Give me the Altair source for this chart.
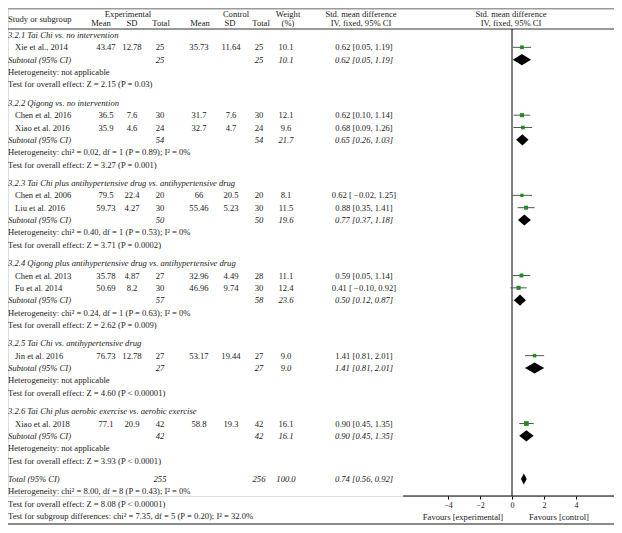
import altair as alt
import pandas as pd

FONT = "Liberation Serif"
FS = 8.6
COL = "#222222"

# ---------------- data ----------------
group_titles = [
    "3.2.1 Tai Chi vs. no intervention",
    "3.2.2 Qigong vs. no intervention",
    "3.2.3 Tai Chi plus antihypertensive drug vs. antihypertensive drug",
    "3.2.4 Qigong plus antihypertensive drug vs. antihypertensive drug",
    "3.2.5 Tai Chi vs. antihypertensive drug",
    "3.2.6 Tai Chi plus aerobic exercise vs. aerobic exercise",
]
study_names = ["Xie et al., 2014", "Chen et al. 2016", "Xiao et al. 2016",
               "Chen et al. 2006", "Liu et al. 2016", "Chen et al. 2013",
               "Fu et al. 2014", "Jin et al. 2016", "Xiao et al. 2018"]
study_group = [0, 1, 1, 2, 2, 3, 3, 4, 5]
exp_mean = ["43.47", "36.5", "35.9", "79.5", "59.73", "35.78", "50.69", "76.73", "77.1"]
exp_sd = ["12.78", "7.6", "4.6", "22.4", "4.27", "4.87", "8.2", "12.78", "20.9"]
exp_n = ["25", "30", "24", "20", "30", "27", "30", "27", "42"]
ctl_mean = ["35.73", "31.7", "32.7", "66", "55.46", "32.96", "46.96", "53.17", "58.8"]
ctl_sd = ["11.64", "7.6", "4.7", "20.5", "5.23", "4.49", "9.74", "19.44", "19.3"]
ctl_n = ["25", "30", "24", "20", "30", "28", "30", "27", "42"]
weight = [10.1, 12.1, 9.6, 8.1, 11.5, 11.1, 12.4, 9.0, 16.1]
smd = [0.62, 0.62, 0.68, 0.62, 0.88, 0.59, 0.41, 1.41, 0.90]
smd_lo = [0.05, 0.10, 0.09, -0.02, 0.35, 0.05, -0.10, 0.81, 0.45]
smd_hi = [1.19, 1.14, 1.26, 1.25, 1.41, 1.14, 0.92, 2.01, 1.35]

sub_exp_n = ["25", "54", "50", "57", "27", "42"]
sub_ctl_n = ["25", "54", "50", "58", "27", "42"]
sub_weight = [10.1, 21.7, 19.6, 23.6, 9.0, 16.1]
sub_smd = [0.62, 0.65, 0.77, 0.50, 1.41, 0.90]
sub_lo = [0.05, 0.26, 0.37, 0.12, 0.81, 0.45]
sub_hi = [1.19, 1.03, 1.18, 0.87, 2.01, 1.35]
sub_het = [
    "Heterogeneity: not applicable",
    "Heterogeneity: chi\u00b2 = 0.02, df = 1 (P = 0.89); I\u00b2 = 0%",
    "Heterogeneity: chi\u00b2 = 0.40, df = 1 (P = 0.53); I\u00b2 = 0%",
    "Heterogeneity: chi\u00b2 = 0.24, df = 1 (P = 0.63); I\u00b2 = 0%",
    "Heterogeneity: not applicable",
    "Heterogeneity: not applicable",
]
sub_test = [
    "Test for overall effect: Z = 2.15 (P = 0.03)",
    "Test for overall effect: Z = 3.27 (P = 0.001)",
    "Test for overall effect: Z = 3.71 (P = 0.0002)",
    "Test for overall effect: Z = 2.62 (P = 0.009)",
    "Test for overall effect: Z = 4.60 (P < 0.00001)",
    "Test for overall effect: Z = 3.93 (P < 0.0001)",
]
total_exp_n = "255"
total_ctl_n = "256"
total_weight = 100.0
total_smd, total_lo, total_hi = 0.74, 0.56, 0.92
total_notes = [
    "Heterogeneity: chi\u00b2 = 8.00, df = 8 (P = 0.43); I\u00b2 = 0%",
    "Test for overall effect: Z = 8.08 (P < 0.00001)",
    "Test for subgroup differences: chi\u00b2 = 7.35, df = 5 (P = 0.20); I\u00b2 = 32.0%",
]
x_min, x_max = -6.8, 6.375
tick_values = [-4, -2, 0, 2, 4]
favours = ["Favours [experimental]", "Favours [control]"]
header_top = ["Experimental", "Control", "Weight", "Std. mean difference", "Std. mean difference"]
header_sub = ["Mean", "SD", "Total", "Mean", "SD", "Total", "(%)",
              "IV, fixed, 95% CI", "IV, fixed, 95% CI"]


def fmt_ci(m, lo, hi):
    s = f"{m:.2f} [{lo:.2f}, {hi:.2f}]"
    return s.replace("-", "\u2212").replace("[\u2212", "[ \u2212")


# ---------------- build row table ----------------
GAP = 0.5
rows = []
r = 0.0
for g, title in enumerate(group_titles):
    rows.append(dict(row=r, kind="section", label=title)); r += 1
    for i, name in enumerate(study_names):
        if study_group[i] != g:
            continue
        rows.append(dict(row=r, kind="study", label=name, em=exp_mean[i], esd=exp_sd[i],
                         en=exp_n[i], cm=ctl_mean[i], csd=ctl_sd[i], cn=ctl_n[i],
                         w=f"{weight[i]:.1f}", wv=weight[i], ci=fmt_ci(smd[i], smd_lo[i], smd_hi[i]),
                         m=smd[i], lo=smd_lo[i], hi=smd_hi[i]))
        r += 1
    rows.append(dict(row=r, kind="subtotal", label="Subtotal (95% CI)", en=sub_exp_n[g],
                     cn=sub_ctl_n[g], w=f"{sub_weight[g]:.1f}",
                     ci=fmt_ci(sub_smd[g], sub_lo[g], sub_hi[g]),
                     m=sub_smd[g], lo=sub_lo[g], hi=sub_hi[g])); r += 1
    rows.append(dict(row=r, kind="note", label=sub_het[g])); r += 1
    rows.append(dict(row=r, kind="note", label=sub_test[g])); r += 1
    r += GAP
rows.append(dict(row=r, kind="subtotal", label="Total (95% CI)", en=total_exp_n, cn=total_ctl_n,
                 w=f"{total_weight:.1f}", ci=fmt_ci(total_smd, total_lo, total_hi),
                 m=total_smd, lo=total_lo, hi=total_hi)); r += 1
for note in total_notes:
    rows.append(dict(row=r, kind="note", label=note)); r += 1
last_row = r - 1
df = pd.DataFrame(rows)

# diamonds
dia = []
for rec in rows:
    if rec["kind"] == "subtotal":
        dia += [dict(id=rec["row"], x=rec["lo"], y=rec["row"], y2=rec["row"]),
                dict(id=rec["row"], x=rec["m"], y=rec["row"] - 0.45, y2=rec["row"] + 0.45),
                dict(id=rec["row"], x=rec["hi"], y=rec["row"], y2=rec["row"])]
dia = pd.DataFrame(dia)

# ---------------- scales ----------------
W, H, TOT = 606, 488, 517
yscale = alt.Scale(domain=[0, last_row], range=[27, 508], nice=False, zero=False)
xscale = alt.Scale(domain=[x_min, x_max], range=[395.2, 606], nice=False, zero=False)
xaxis = alt.Axis(values=tick_values, title="", grid=False, labelFont=FONT, labelFontSize=8,
                 labelColor=COL, tickSize=3, tickColor="#000", domain=False,
                 labelPadding=2, tickWidth=1)

base = alt.Chart(df)


def col(kinds, field, x, italic=False, align="center"):
    return base.transform_filter(
        alt.FieldOneOfPredicate(field="kind", oneOf=kinds)
    ).mark_text(align=align, baseline="middle", font=FONT, fontSize=FS,
                fontStyle="italic" if italic else "normal", color=COL).encode(
        x=alt.value(x),
        y=alt.Y("row:Q", scale=yscale, axis=None),
        text=alt.Text(f"{field}:N"),
    )


def fixed_text(t, x, y, align="center"):
    return alt.Chart(pd.DataFrame({"t": [t]})).mark_text(
        align=align, baseline="middle", font=FONT, fontSize=FS, color=COL).encode(
        x=alt.value(x), y=alt.value(y), text="t:N")


def hline(y, width, color):
    return alt.Chart(pd.DataFrame({"k": [0]})).mark_rule(
        color=color, strokeWidth=width).encode(
        x=alt.value(0), x2=alt.value(W), y=alt.value(y))


layers = [
    col(["section"], "label", 0, True, "left"),
    col(["study"], "label", 7, False, "left"),
    col(["subtotal"], "label", 0, True, "left"),
    col(["note"], "label", 0, False, "left"),
]
for field, x in [("em", 98), ("esd", 124), ("cm", 191), ("csd", 223)]:
    layers.append(col(["study"], field, x))
for field, x in [("en", 152), ("cn", 251), ("w", 278), ("ci", 356)]:
    layers.append(col(["study"], field, x))
    layers.append(col(["subtotal"], field, x, True))

# headers
for t, x in zip(header_top, [120, 228, 280, 353, 503]):
    layers.append(fixed_text(t, x, 5.5))
for t, x in zip(header_sub, [93, 124, 153, 192, 222, 253, 280, 353, 503]):
    layers.append(fixed_text(t, x, 15))
layers.append(fixed_text("Study or subgroup", 0, 10.5, "left"))
for t, x in zip(favours, [455, 551]):
    layers.append(fixed_text(t, x, 509))

# border lines
layers += [hline(0.5, 2, "#9a9a9a"), hline(21, 1, "#333333"), hline(516, 2, "#8a8a8a")]

# forest plot
zero = pd.DataFrame({"z": [0]})
layers.append(alt.Chart(zero).mark_rule(color="#000", strokeWidth=1).encode(
    x=alt.X("z:Q", scale=xscale, axis=xaxis), y=alt.value(21), y2=alt.value(H)))
axis_line = pd.DataFrame({"a": [x_min], "b": [x_max]})
layers.append(alt.Chart(axis_line).mark_rule(color="#000", strokeWidth=1).encode(
    x=alt.X("a:Q", scale=xscale, axis=xaxis), x2="b:Q", y=alt.value(H)))
studies = base.transform_filter(alt.datum.kind == "study")
layers.append(studies.mark_rule(color="#555555", strokeWidth=1).encode(
    x=alt.X("lo:Q", scale=xscale, axis=xaxis), x2="hi:Q",
    y=alt.Y("row:Q", scale=yscale, axis=None)))
layers.append(studies.mark_square(color="#1f8a1f", opacity=1).encode(
    x=alt.X("m:Q", scale=xscale, axis=xaxis),
    y=alt.Y("row:Q", scale=yscale, axis=None),
    size=alt.Size("wv:Q", scale=alt.Scale(domain=[0, 16.1], range=[0, 22]), legend=None)))
layers.append(alt.Chart(dia).mark_area(color="#000", orient="vertical").encode(
    x=alt.X("x:Q", scale=xscale, axis=xaxis),
    y=alt.Y("y:Q", scale=yscale, axis=None), y2="y2:Q",
    detail="id:N"))

chart = alt.layer(*layers).properties(
    width=W, height=H,
    padding={"left": 0, "top": 0, "right": 0, "bottom": TOT - H},
    autosize=alt.AutoSizeParams(type="none"),
).configure_view(strokeWidth=0, stroke="transparent").configure(background="white")

chart.save("out.html", embed_options={"renderer": "svg", "actions": False})
